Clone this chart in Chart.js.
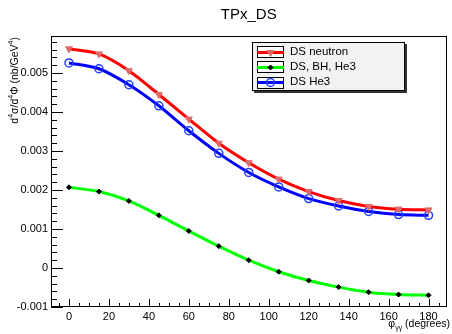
<!DOCTYPE html>
<html>
<head>
<meta charset="utf-8">
<script src="https://cdn.jsdelivr.net/npm/chart.js@4/dist/chart.umd.min.js"></script>
<style>
	html, body { margin: 0; padding: 0; background: #fff; }
	#wrap { width: 452px; height: 334px; position: relative; }
</style>
</head>
<body>
<div id="wrap"><canvas id="dsChart" width="452" height="334"></canvas></div>
<script>
// phi_gamma_gamma (degrees)
const angles = [0, 15, 30, 45, 60, 75, 90, 105, 120, 135, 150, 165, 180];

const dsNeutron = [0.00562, 0.00549, 0.00506, 0.00445, 0.00382, 0.00320, 0.00270,
	0.00228, 0.00196, 0.00173, 0.00158, 0.00151, 0.00149];
const dsBhHe3 = [0.00207, 0.00196, 0.00172, 0.00135, 0.00095, 0.00056, 0.00020,
	-0.000095, -0.00032, -0.00049, -0.00062, -0.00068, -0.00070];
const dsHe3 = [0.00526, 0.00511, 0.00470, 0.00416, 0.00352, 0.00294, 0.00245,
	0.00208, 0.00178, 0.00159, 0.00145, 0.00137, 0.00135];

const seriesNames = ['DS neutron', 'DS, BH, He3', 'DS He3'];
const xTicks = [0, 20, 40, 60, 80, 100, 120, 140, 160, 180];
const yTicks = [-0.001, 0, 0.001, 0.002, 0.003, 0.004, 0.005];

const FONT = '"Liberation Sans", Arial, Helvetica, sans-serif';

function pts(arr){
	return angles.map((a, i) => ({x: a, y: arr[i]}));
}

// ROOT style frame, inward ticks, title, axis titles and legend
const rootStyle = {
	id: 'rootStyle',
	afterDraw(chart){
		const ctx = chart.ctx;
		const a = chart.chartArea;
		const xs = chart.scales.x, ys = chart.scales.y;
		ctx.save();

		// frame
		ctx.strokeStyle = '#000';
		ctx.lineWidth = 1;
		ctx.strokeRect(Math.round(a.left) + 0.5, Math.round(a.top) + 0.5,
			Math.round(a.right - a.left) - 1, Math.round(a.bottom - a.top) - 1);

		// x ticks
		ctx.beginPath();
		for (let v = -5; v <= xs.max; v += 5){
			const px = Math.round(xs.getPixelForValue(v)) + 0.5;
			const len = (v % 20 === 0) ? 8 : 4;
			ctx.moveTo(px, a.bottom);
			ctx.lineTo(px, a.bottom - len);
		}
		// y ticks
		for (let k = -5; k <= 35; k++){
			const v = k * 0.0002;
			if (v > ys.max) break;
			const py = Math.round(ys.getPixelForValue(v)) + 0.5;
			const len = (k % 5 === 0) ? 12 : 6;
			ctx.moveTo(a.left, py);
			ctx.lineTo(a.left + len, py);
		}
		ctx.stroke();

		// title
		ctx.fillStyle = '#000';
		ctx.font = '15px ' + FONT;
		ctx.textAlign = 'center';
		ctx.textBaseline = 'middle';
		ctx.fillText('TPx_DS', (a.left + a.right) / 2, 15);

		// y axis title, right aligned to the top of the frame
		const yParts = [['d', 0], ['4', 1], ['\u03c3/d', 0], ['4', 1], ['\u03a6 (nb/GeV', 0], ['4', 1], [')', 0]];
		ctx.save();
		ctx.translate(18, a.top + 1);
		ctx.rotate(-Math.PI / 2);
		ctx.textAlign = 'left';
		ctx.textBaseline = 'alphabetic';
		let w = 0;
		yParts.forEach(p => {
			ctx.font = (p[1] ? '7px ' : '10.5px ') + FONT;
			w += ctx.measureText(p[0]).width;
		});
		let cx = -w;
		yParts.forEach(p => {
			ctx.font = (p[1] ? '7px ' : '10.5px ') + FONT;
			ctx.fillText(p[0], cx, p[1] ? -5 : 0);
			cx += ctx.measureText(p[0]).width;
		});
		ctx.restore();

		// x axis title
		ctx.textAlign = 'left';
		ctx.textBaseline = 'alphabetic';
		const xParts = [['\u03c6', 0, 0], ['\u03b3\u03b3', 1, 0], [' (degrees)', 0, 0]];
		let xw = 0;
		xParts.forEach(p => {
			ctx.font = (p[1] ? '7px ' : '10.5px ') + FONT;
			xw += ctx.measureText(p[0]).width;
		});
		let tx = 450 - xw;
		xParts.forEach(p => {
			ctx.font = (p[1] ? '7px ' : '10.5px ') + FONT;
			ctx.fillText(p[0], tx, p[1] ? 330 : 327);
			tx += ctx.measureText(p[0]).width;
		});

		// legend
		const lx = 252, ly = 42, lw = 153, lh = 49;
		ctx.fillStyle = '#333';
		ctx.fillRect(lx + 2, ly + 2, lw, lh);
		ctx.fillStyle = '#f2f2f2';
		ctx.fillRect(lx, ly, lw, lh);
		ctx.strokeStyle = '#000';
		ctx.strokeRect(lx + 0.5, ly + 0.5, lw - 1, lh - 1);

		const rows = [51.5, 66.5, 82];
		chart.data.datasets.forEach((ds, i) => {
			const ry = rows[i];
			ctx.fillStyle = '#fff';
			ctx.fillRect(257, ry - 5.5, 26, 11);
			ctx.strokeStyle = '#000';
			ctx.lineWidth = 1;
			ctx.strokeRect(257.5, Math.round(ry - 5.5) + 0.5, 26, 11);
			ctx.strokeStyle = ds.borderColor;
			ctx.lineWidth = 3;
			ctx.beginPath();
			ctx.moveTo(257, Math.round(ry) + 0.5);
			ctx.lineTo(284, Math.round(ry) + 0.5);
			ctx.stroke();
			ctx.lineWidth = ds.pointBorderWidth;
			ctx.fillStyle = ds.pointBackgroundColor;
			ctx.strokeStyle = ds.pointBorderColor;
			Chart.helpers.drawPoint(ctx, {
				pointStyle: ds.pointStyle,
				radius: ds.pointRadius,
				rotation: ds.pointRotation || 0,
				borderWidth: ds.pointBorderWidth
			}, 270.5, Math.round(ry) + 0.5);
			ctx.fillStyle = '#000';
			ctx.font = '11.5px ' + FONT;
			ctx.textAlign = 'left';
			ctx.textBaseline = 'middle';
			ctx.fillText(ds.label, 290, ry);
		});

		ctx.restore();
	}
};

new Chart(document.getElementById('dsChart').getContext('2d'), {
	type: 'line',
	data: {
		datasets: [{
			label: seriesNames[0],
			data: pts(dsNeutron),
			borderColor: '#ff0000',
			borderWidth: 3,
			pointStyle: 'triangle',
			pointRotation: 180,
			pointRadius: 4,
			pointBorderWidth: 1,
			pointBackgroundColor: '#e06a6a',
			pointBorderColor: '#e06a6a',
			tension: 0.25
		},
		{
			label: seriesNames[1],
			data: pts(dsBhHe3),
			borderColor: '#00ff00',
			borderWidth: 3,
			pointStyle: 'rectRot',
			pointRadius: 2.5,
			pointBorderWidth: 1,
			pointBackgroundColor: '#000',
			pointBorderColor: '#000',
			tension: 0.25
		},
		{
			label: seriesNames[2],
			data: pts(dsHe3),
			borderColor: '#0000ff',
			borderWidth: 3,
			pointStyle: 'circle',
			pointRadius: 4,
			pointBorderWidth: 1.5,
			pointBackgroundColor: 'rgba(0,0,0,0)',
			pointBorderColor: '#2040ff',
			tension: 0.25
		}]
	},
	plugins: [rootStyle],
	options: {
		responsive: false,
		animation: false,
		layout: {
			padding: {top: 36, left: 0, right: 1, bottom: 0}
		},
		plugins: {
			legend: {display: false},
			title: {display: false},
			tooltip: {enabled: false}
		},
		scales: {
			x: {
				type: 'linear',
				min: -9,
				max: 189,
				grid: {display: false, drawTicks: false},
				border: {display: false},
				afterFit(scale){ scale.height = 27; },
				afterBuildTicks(scale){ scale.ticks = xTicks.map(v => ({value: v})); },
				ticks: {
					color: '#000',
					padding: 3,
					maxRotation: 0,
					autoSkip: false,
					font: {family: FONT, size: 11},
					callback: v => String(v)
				}
			},
			y: {
				type: 'linear',
				min: -0.001,
				max: 0.00595,
				grid: {display: false, drawTicks: false},
				border: {display: false},
				afterFit(scale){ scale.width = 51; },
				afterBuildTicks(scale){ scale.ticks = yTicks.map(v => ({value: v})); },
				ticks: {
					color: '#000',
					padding: 3,
					autoSkip: false,
					font: {family: FONT, size: 11},
					callback: v => (Math.abs(v) < 1e-12 ? '0' : String(+v.toFixed(3)))
				}
			}
		}
	}
});
</script>
</body>
</html>
